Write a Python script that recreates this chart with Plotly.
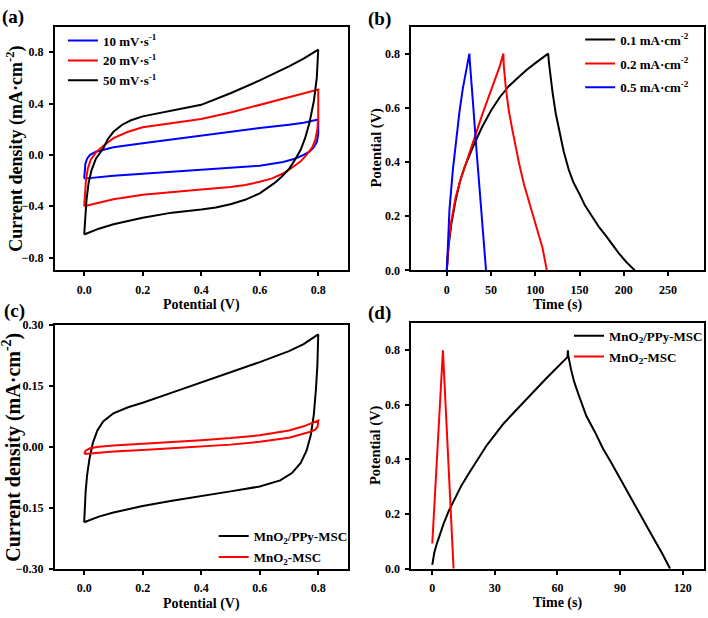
import plotly.graph_objects as go

W, H = 708, 618

# ---------------- data ----------------
# (a) CV at different scan rates: anodic branch then cathodic branch (V, mA/cm2)
cv10_v = [0.0, 0.001, 0.004, 0.01, 0.02, 0.04, 0.07, 0.1, 0.2, 0.3, 0.4, 0.5, 0.6, 0.7, 0.75, 0.8,
          0.8, 0.795, 0.785, 0.77, 0.75, 0.72, 0.68, 0.6, 0.5, 0.4, 0.3, 0.2, 0.1, 0.0]
cv10_i = [-0.185, -0.12, -0.07, -0.03, 0.0, 0.025, 0.045, 0.06, 0.09, 0.12, 0.155, 0.18, 0.21, 0.235, 0.25, 0.275,
          0.16, 0.1, 0.06, 0.025, 0.0, -0.03, -0.055, -0.084, -0.1, -0.12, -0.133, -0.147, -0.162, -0.185]

cv20_v = [0.0, 0.002, 0.006, 0.012, 0.022, 0.04, 0.065, 0.1, 0.15, 0.2, 0.3, 0.4, 0.5, 0.6, 0.7, 0.75, 0.8,
          0.8, 0.797, 0.79, 0.78, 0.76, 0.74, 0.71, 0.68, 0.64, 0.6, 0.55, 0.5, 0.4, 0.3, 0.2, 0.1, 0.05, 0.0]
cv20_i = [-0.4, -0.3, -0.2, -0.11, -0.04, 0.02, 0.07, 0.13, 0.18, 0.215, 0.245, 0.28, 0.33, 0.39, 0.45, 0.48, 0.51,
          0.3, 0.2, 0.12, 0.06, 0.0, -0.05, -0.1, -0.145, -0.185, -0.21, -0.235, -0.25, -0.27, -0.29, -0.31, -0.345, -0.37, -0.4]

cv50_v = [0.0, 0.003, 0.008, 0.015, 0.025, 0.04, 0.05, 0.065, 0.08, 0.1, 0.13, 0.16, 0.2, 0.3, 0.4, 0.5, 0.6, 0.7, 0.75, 0.8,
          0.795, 0.785, 0.77, 0.755, 0.74, 0.72, 0.7, 0.675, 0.65, 0.6, 0.55, 0.5, 0.45, 0.4, 0.3, 0.2, 0.1, 0.05, 0.0]
cv50_i = [-0.62, -0.5, -0.35, -0.22, -0.12, -0.03, 0.0, 0.05, 0.12, 0.18, 0.235, 0.27, 0.3, 0.345, 0.39, 0.48, 0.58, 0.69, 0.75, 0.82,
          0.6, 0.42, 0.25, 0.13, 0.04, -0.04, -0.11, -0.17, -0.22, -0.3, -0.35, -0.385, -0.41, -0.425, -0.45, -0.49, -0.54, -0.575, -0.62]

# (b) GCD at different current densities (s, V)
gcd01_t = [0, 2, 5, 10, 15, 20, 25, 30, 40, 50, 60, 70, 80, 90, 100, 110, 114.5,
           115.6, 117, 119.4, 123, 126.9, 132, 138, 143, 149.4, 156, 164, 172, 179.4, 187, 194.4, 203, 212.5]
gcd01_v = [0, 0.09, 0.17, 0.26, 0.33, 0.38, 0.42, 0.46, 0.53, 0.59, 0.64, 0.68, 0.71, 0.74, 0.765, 0.79, 0.8,
           0.76, 0.72, 0.658, 0.58, 0.514, 0.44, 0.369, 0.325, 0.285, 0.24, 0.2, 0.16, 0.129, 0.095, 0.063, 0.03, 0]

gcd02_t = [0, 2, 5, 10, 15, 20, 25, 30, 35, 40, 45, 50, 55, 60, 63.8,
           64.5, 66.8, 70, 74.3, 78, 81.8, 87, 93, 98, 104, 108, 113]
gcd02_v = [0, 0.1, 0.18, 0.27, 0.33, 0.38, 0.43, 0.48, 0.53, 0.575, 0.62, 0.665, 0.71, 0.755, 0.8,
           0.75, 0.67, 0.59, 0.514, 0.45, 0.393, 0.32, 0.249, 0.19, 0.129, 0.085, 0]

gcd05_t = [0, 1, 3, 6.8, 10, 14.3, 18, 21.8, 25.5, 26, 27.4, 30, 33, 36, 38.7, 41.5, 44.3]
gcd05_v = [0, 0.1, 0.225, 0.37, 0.47, 0.586, 0.67, 0.742, 0.8, 0.77, 0.718, 0.6, 0.466, 0.34, 0.225, 0.11, 0]

# (c) CV comparison at 10 mV/s
cvppy_v = [0.0, 0.002, 0.005, 0.01, 0.018, 0.03, 0.045, 0.065, 0.1, 0.15, 0.2, 0.3, 0.4, 0.5, 0.6, 0.7, 0.75, 0.8,
           0.797, 0.792, 0.785, 0.775, 0.76, 0.74, 0.71, 0.67, 0.6, 0.5, 0.4, 0.3, 0.2, 0.1, 0.05, 0.0]
cvppy_i = [-0.186, -0.15, -0.11, -0.07, -0.03, 0.01, 0.04, 0.062, 0.082, 0.097, 0.108, 0.133, 0.158, 0.183, 0.208, 0.235, 0.252, 0.276,
           0.2, 0.14, 0.08, 0.03, -0.01, -0.04, -0.065, -0.083, -0.098, -0.11, -0.121, -0.133, -0.146, -0.162, -0.172, -0.186]

cvmno_v = [0.0, 0.005, 0.02, 0.05, 0.1, 0.2, 0.3, 0.4, 0.5, 0.6, 0.7, 0.75, 0.8,
           0.798, 0.79, 0.77, 0.7, 0.6, 0.5, 0.4, 0.3, 0.2, 0.1, 0.0]
cvmno_i = [-0.018, -0.01, -0.004, 0.0, 0.003, 0.007, 0.011, 0.016, 0.021, 0.028, 0.04, 0.05, 0.064,
           0.05, 0.042, 0.036, 0.022, 0.012, 0.005, 0.0, -0.004, -0.008, -0.012, -0.018]

# (d) GCD comparison (s, V)
gcdppy_t = [0, 1, 2.2, 3.8, 5.4, 7.8, 10.2, 14, 18.1, 22, 26.1, 30, 34, 38, 42, 46, 50, 54, 57.9, 61.5, 64.8, 65,
            65.2, 66.5, 68, 70, 73.8, 78, 81.8, 86, 89.8, 94, 97.7, 102, 105.7, 110, 113.6, 114]
gcdppy_v = [0.014, 0.06, 0.092, 0.13, 0.164, 0.21, 0.248, 0.305, 0.356, 0.405, 0.452, 0.49, 0.53, 0.563, 0.596, 0.63, 0.662, 0.692, 0.722, 0.75, 0.775, 0.8,
            0.78, 0.73, 0.685, 0.64, 0.56, 0.5, 0.44, 0.385, 0.332, 0.275, 0.224, 0.165, 0.116, 0.058, 0.008, 0]

gcdmno_t = [0, 5.1, 10.2]
gcdmno_v = [0.092, 0.8, 0]

# labels
leg_a = ["10 mV·s<sup>-1</sup>", "20 mV·s<sup>-1</sup>", "50 mV·s<sup>-1</sup>"]
leg_b = ["0.1 mA·cm<sup>-2</sup>", "0.2 mA·cm<sup>-2</sup>", "0.5 mA·cm<sup>-2</sup>"]
leg_cd = ["MnO<sub>2</sub>/PPy-MSC", "MnO<sub>2</sub>-MSC"]
panel_labels = ["(a)", "(b)", "(c)", "(d)"]
x_titles = ["Potential (V)", "Time (s)", "Potential (V)", "Time (s)"]
y_titles = ["Current density (mA·cm<sup>-2</sup>)", "Potential (V)",
            "Current density (mA·cm<sup>-2</sup>)", "Potential (V)"]

BLACK, RED, BLUE = "#000000", "#ff0000", "#0000ff"
FONT = "Liberation Serif"

def fnt(size):
    return dict(family=FONT, size=size, color="black", weight="bold")

fig = go.Figure()

def add(x, y, name, color, xa, ya, legend, group):
    fig.add_trace(go.Scatter(x=x, y=y, mode="lines", name=name, line=dict(color=color, width=2),
                             xaxis=xa, yaxis=ya, legend=legend, legendgroup=group))

# (a)
add(cv10_v, cv10_i, leg_a[0], BLUE, "x", "y", "legend", "a1")
add(cv20_v, cv20_i, leg_a[1], RED, "x", "y", "legend", "a2")
add(cv50_v, cv50_i, leg_a[2], BLACK, "x", "y", "legend", "a3")
# (b)
add(gcd01_t, gcd01_v, leg_b[0], BLACK, "x2", "y2", "legend2", "b1")
add(gcd02_t, gcd02_v, leg_b[1], RED, "x2", "y2", "legend2", "b2")
add(gcd05_t, gcd05_v, leg_b[2], BLUE, "x2", "y2", "legend2", "b3")
# (c)
add(cvppy_v, cvppy_i, leg_cd[0], BLACK, "x3", "y3", "legend3", "c1")
add(cvmno_v, cvmno_i, leg_cd[1], RED, "x3", "y3", "legend3", "c2")
# (d)
add(gcdppy_t, gcdppy_v, leg_cd[0], BLACK, "x4", "y4", "legend4", "d1")
add(gcdmno_t, gcdmno_v, leg_cd[1], RED, "x4", "y4", "legend4", "d2")

def px_x(p):
    return p / W

def px_y(p):
    return 1 - p / H

axis_common = dict(showline=True, linewidth=2, linecolor="black", mirror=True,
                   ticks="outside", ticklen=4, tickwidth=2, tickcolor="black",
                   showgrid=False, zeroline=False, tickfont=fnt(12))

dom_left = [px_x(55), px_x(348)]
dom_right = [px_x(412), px_x(704.5)]
dom_top = [px_y(269.5), px_y(20)]
dom_bot_c = [px_y(574.7), px_y(325)]
dom_bot_d = [px_y(574.7), px_y(323.3)]

XSO = 3  # x tick label standoff
fig.update_layout(
    width=W, height=H, margin=dict(l=0, r=0, t=0, b=0),
    paper_bgcolor="white", plot_bgcolor="white",
    font=fnt(12),
    xaxis=dict(domain=dom_left, anchor="y", range=[-0.1, 0.9], tick0=0, dtick=0.2, tickformat=".1f",
               ticklabelstandoff=XSO, **axis_common),
    yaxis=dict(domain=dom_top, anchor="x", range=[-0.9, 1.0], tick0=0, dtick=0.4, tickformat=".1f",
               ticklabelstandoff=3, **axis_common),
    xaxis2=dict(domain=dom_right, anchor="y2", range=[-40, 290], tick0=0, dtick=50,
                ticklabelstandoff=XSO, **axis_common),
    yaxis2=dict(domain=dom_top, anchor="x2", range=[0, 0.9], tick0=0, dtick=0.2, tickformat=".1f",
                ticklabelstandoff=3, **axis_common),
    xaxis3=dict(domain=dom_left, anchor="y3", range=[-0.1, 0.9], tick0=0, dtick=0.2, tickformat=".1f",
                ticklabelstandoff=XSO, **axis_common),
    yaxis3=dict(domain=dom_bot_c, anchor="x3", range=[-0.3001, 0.3001], tick0=0, dtick=0.15, tickformat=".2f",
                ticklabelstandoff=3, **axis_common),
    xaxis4=dict(domain=dom_right, anchor="y4", range=[-10, 130], tick0=0, dtick=30,
                ticklabelstandoff=XSO, **axis_common),
    yaxis4=dict(domain=dom_bot_d, anchor="x4", range=[0, 0.9], tick0=0, dtick=0.2, tickformat=".1f",
                ticklabelstandoff=3, **axis_common),
    legend=dict(x=px_x(63), y=px_y(19), xanchor="left", yanchor="top", font=fnt(13),
                bgcolor="rgba(0,0,0,0)", tracegroupgap=0, itemwidth=30),
    legend2=dict(x=px_x(581), y=px_y(18), xanchor="left", yanchor="top", font=fnt(13),
                 bgcolor="rgba(0,0,0,0)", tracegroupgap=4, itemwidth=30),
    legend3=dict(x=px_x(214), y=px_y(526), xanchor="left", yanchor="top", font=fnt(13),
                 bgcolor="rgba(0,0,0,0)", tracegroupgap=1, itemwidth=30),
    legend4=dict(x=px_x(570), y=px_y(321), xanchor="left", yanchor="top", font=fnt(13),
                 bgcolor="rgba(0,0,0,0)", tracegroupgap=1, itemwidth=30),
)

# panel labels
label_pos = [(13.5, 10), (380.5, 12), (14.5, 311), (380.5, 313)]
for lab, (lx, ly) in zip(panel_labels, label_pos):
    fig.add_annotation(text=lab, x=px_x(lx), y=px_y(ly), xref="paper", yref="paper",
                       xanchor="center", yanchor="middle", showarrow=False, font=fnt(19))

# axis titles
xt_pos = [(201.5, 304.5), (558, 304.5), (201.5, 610.5), (558, 610)]
yt_pos = [(15, 145), (376.7, 144.5), (12, 450), (376.7, 449)]
yt_size = [18, 14.5, 20, 14.5]
for txt, (tx, ty) in zip(x_titles, xt_pos):
    fig.add_annotation(text=txt, x=px_x(tx), y=px_y(ty), xref="paper", yref="paper",
                       xanchor="center", yanchor="middle", showarrow=False, font=fnt(14))
for txt, (tx, ty), sz in zip(y_titles, yt_pos, yt_size):
    fig.add_annotation(text=txt, x=px_x(tx), y=px_y(ty), xref="paper", yref="paper",
                       xanchor="center", yanchor="middle", showarrow=False, font=fnt(sz),
                       textangle=-90)

# the page's default 8px body margin would shift the figure; remove it
fig.write_html("out.html", config={"displayModeBar": False},
               post_script="document.body.style.margin='0px';")
